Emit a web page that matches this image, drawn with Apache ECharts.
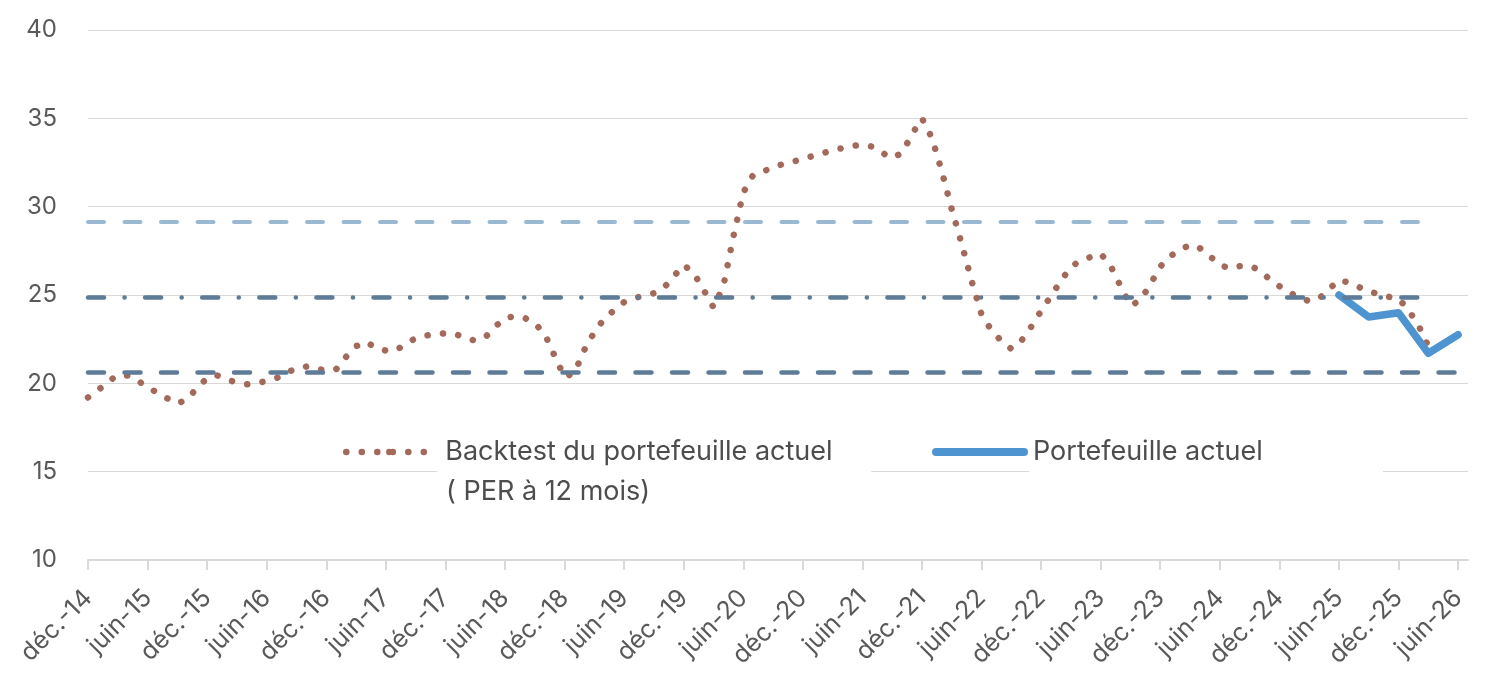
<!DOCTYPE html>
<html>
<head>
<meta charset="utf-8">
<script src="https://cdn.jsdelivr.net/npm/echarts@6/dist/echarts.min.js"></script>
<style>
  html, body { margin: 0; padding: 0; background: #fff; }
  #main { width: 1498px; height: 696px; }
</style>
</head>
<body>
<div id="main"></div>
<script>
  // month labels, déc.-14 .. juil.-26
  var monthNames = ['janv.', 'févr.', 'mars', 'avr.', 'mai', 'juin', 'juil.', 'août', 'sept.', 'oct.', 'nov.', 'déc.'];
  var categories = [];
  for (var k = 0; k < 140; k++) {
    var m = (11 + k) % 12, y = 14 + Math.floor((11 + k) / 12);
    categories.push(monthNames[m] + '-' + y);
  }

  // backtest PER (monthly, déc.-14 .. mars-26)
  var backtest = [
    19.2, 19.6, 20.1, 20.45, 20.45, 20.15, 19.8, 19.45, 19.15, 18.85,
    19.1, 19.75, 20.3, 20.45, 20.2, 20.05, 19.95, 20.0, 20.15, 20.3,
    20.6, 20.85, 20.95, 20.8, 20.75, 20.8, 21.5, 22.1, 22.35, 22.0,
    21.85, 21.85, 22.25, 22.55, 22.7, 22.78, 22.83, 22.8, 22.55, 22.42,
    22.6, 23.2, 23.7, 23.8, 23.7, 23.4, 22.8, 21.55, 20.35, 20.6,
    21.9, 22.9, 23.65, 24.15, 24.6, 24.83, 24.95, 25.1, 25.4, 26.05,
    26.7, 26.25, 25.3, 24.3, 25.5, 28.3, 30.8, 31.8, 32.0, 32.2,
    32.42, 32.55, 32.7, 32.87, 33.03, 33.18, 33.32, 33.45, 33.5, 33.4,
    33.05, 32.75, 33.05, 34.1, 35.0, 33.9, 32.0, 29.85, 27.9, 25.8,
    23.9, 23.0, 22.4, 21.95, 22.4, 23.2, 24.1, 24.95, 25.8, 26.6,
    26.95, 27.15, 27.34, 26.65, 25.5, 24.4, 24.7, 25.6, 26.6, 27.2,
    27.55, 27.85, 27.65, 27.2, 26.7, 26.5, 26.63, 26.66, 26.4, 25.9,
    25.5, 25.15, 24.85, 24.65, 24.8, 25.33, 25.85, 25.7, 25.45, 25.2,
    25.05, 24.9, 24.8, 24.15, 23.3, 22.1
  ];

  // portefeuille actuel (quarterly)
  var portfolioDates = ['juin-25', 'sept.-25', 'déc.-25', 'mars-26', 'juin-26'];
  var portfolioValues = [25.0, 23.75, 24.0, 21.7, 22.75];

  // moyenne et +/- 1 écart-type
  var meanPER = 24.9;
  var upperPER = 29.17;
  var lowerPER = 20.63;

  var chart = echarts.init(document.getElementById('main'));
  var font = 'Inter';
  var textColor = '#4d4d4d';

  chart.setOption({
    animation: false,
    grid: {left: 88, right: 30, top: 30, bottom: 136},
    title: {
      text: '( PER à 12 mois)',
      left: 446, top: 478, padding: 0,
      textStyle: {fontFamily: font, fontSize: 27, fontWeight: 'normal', color: textColor}
    },
    legend: [{
      data: ['Backtest du portefeuille actuel'],
      left: 343, top: 411, padding: 0,
      itemWidth: 86, itemHeight: 8,
      selectedMode: false,
      lineStyle: {width: 6.5},
      textStyle: {
        fontFamily: font, fontSize: 27, color: textColor, lineHeight: 42,
        backgroundColor: '#fff', padding: [20, 0, 20, 8], width: 426
      }
    }, {
      data: ['Portefeuille actuel'],
      left: 932, top: 411, padding: 0,
      itemWidth: 88, itemHeight: 8,
      selectedMode: false,
      lineStyle: {width: 8},
      textStyle: {
        fontFamily: font, fontSize: 27, color: textColor, lineHeight: 42,
        backgroundColor: '#fff', padding: [20, 0, 20, 4], width: 350
      }
    }],
    xAxis: {
      type: 'category',
      boundaryGap: false,
      data: categories,
      axisLine: {lineStyle: {color: '#d9d9d9', width: 2}},
      axisTick: {interval: 5, length: 10, lineStyle: {color: '#d9d9d9', width: 2}},
      axisLabel: {
        interval: 5, rotate: 45, margin: 34,
        fontFamily: font, fontSize: 25, color: '#595959'
      }
    },
    yAxis: {
      type: 'value',
      min: 10, max: 40, interval: 5,
      axisLine: {show: false},
      axisTick: {show: false},
      axisLabel: {margin: 31, fontFamily: font, fontSize: 24, color: '#595959'},
      splitLine: {lineStyle: {color: '#d9d9d9', width: 1}}
    },
    series: [
      {
        name: 'Backtest du portefeuille actuel',
        type: 'line',
        data: backtest,
        symbol: 'none',
        lineStyle: {color: '#a36a5b', width: 6.5, type: [0.1, 15.4], cap: 'round', join: 'round'},
        itemStyle: {color: '#a36a5b'},
        markLine: {
          silent: true,
          symbol: ['none', 'none'],
          label: {show: false},
          emphasis: {disabled: true},
          data: [
            [{coord: [categories[0], upperPER],
              lineStyle: {color: '#9bb8d3', width: 4, type: [16, 20.5], cap: 'round'}},
             {coord: [categories[135], upperPER]}],
            [{coord: [categories[0], meanPER],
              lineStyle: {color: '#5e7b98', width: 4.5, type: [16, 20.5, 0.1, 20.5], cap: 'round'}},
             {coord: [categories[135], meanPER]}],
            [{coord: [categories[0], lowerPER],
              lineStyle: {color: '#5e7b98', width: 4.5, type: [16, 20.5], cap: 'round'}},
             {coord: [categories[138], lowerPER]}]
          ]
        }
      },
      {
        name: 'Portefeuille actuel',
        type: 'line',
        data: portfolioDates.map(function (d, i) { return [d, portfolioValues[i]]; }),
        symbol: 'none',
        lineStyle: {color: '#4e94d0', width: 7.5, cap: 'round', join: 'round'},
        itemStyle: {color: '#4e94d0'},
        z: 3
      }
    ]
  });
</script>
</body>
</html>
